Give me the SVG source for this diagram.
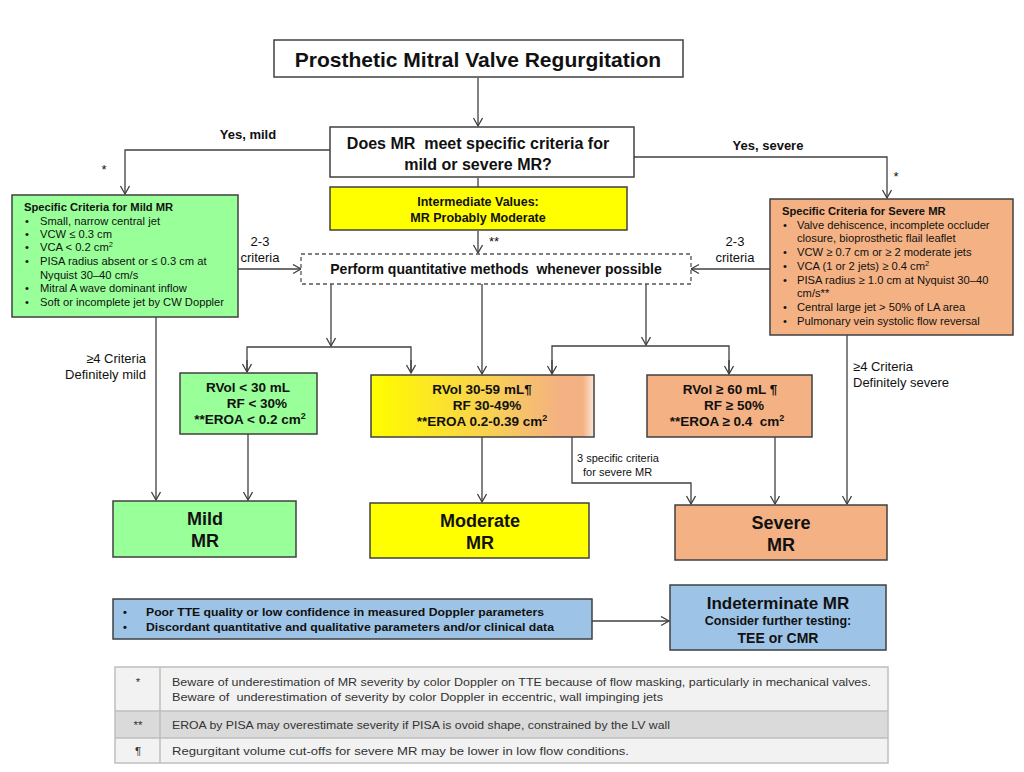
<svg xmlns="http://www.w3.org/2000/svg" width="1024" height="772" viewBox="0 0 1024 772">
<style>
text{font-family:"Liberation Sans",Arial,sans-serif;fill:#111;white-space:pre}
.b{font-weight:bold}
.box{stroke:#404040;stroke-width:1.5}
.c{fill:none;stroke:#404040;stroke-width:1.3}
.crit{font-size:11.2px}
.lbl{font-size:13px}
.rv{font-size:13.5px;font-weight:bold;text-anchor:middle}
.out{font-size:18px;font-weight:bold;text-anchor:middle}
.tb{font-size:11.5px;fill:#333}
</style>
<defs>
<marker id="ar" markerUnits="userSpaceOnUse" markerWidth="14" markerHeight="14" refX="9" refY="5" orient="auto">
<path d="M1,0.5 L9,5 L1,9.5" fill="none" stroke="#404040" stroke-width="1.3"/>
</marker>
<linearGradient id="mod" x1="0" y1="0" x2="1" y2="0">
<stop offset="0" stop-color="#FFFF00"/>
<stop offset="0.1" stop-color="#FEF50A"/>
<stop offset="0.55" stop-color="#F8CF55"/>
<stop offset="0.85" stop-color="#F4B183"/>
<stop offset="0.95" stop-color="#F4B183"/>
<stop offset="1" stop-color="#FBE6D8"/>
</linearGradient>
</defs>
<rect width="1024" height="772" fill="#fff"/>

<g id="connectors">
<path class="c" d="M478,78 V126" marker-end="url(#ar)"/>
<path class="c" d="M330,150 H125 V194" marker-end="url(#ar)"/>
<path class="c" d="M634,157 H887 V198" marker-end="url(#ar)"/>
<path class="c" d="M478,178 V187"/>
<path class="c" d="M478,231 V253" marker-end="url(#ar)"/>
<path class="c" d="M238,269 H301" marker-end="url(#ar)"/>
<path class="c" d="M770,269 H691" marker-end="url(#ar)"/>
<path class="c" d="M331,284 V346" marker-end="url(#ar)"/>
<path class="c" d="M247,372 V347 H411 V372"/>
<path class="c" d="M247,360 V372" marker-end="url(#ar)"/>
<path class="c" d="M411,360 V373" marker-end="url(#ar)"/>
<path class="c" d="M482,284 V374" marker-end="url(#ar)"/>
<path class="c" d="M646,284 V345" marker-end="url(#ar)"/>
<path class="c" d="M552,374 V346 H729 V374"/>
<path class="c" d="M552,360 V374" marker-end="url(#ar)"/>
<path class="c" d="M729,360 V374" marker-end="url(#ar)"/>
<path class="c" d="M156,317 V500" marker-end="url(#ar)"/>
<path class="c" d="M248,434 V500" marker-end="url(#ar)"/>
<path class="c" d="M482,437 V502" marker-end="url(#ar)"/>
<path class="c" d="M572,437 V483 H691 V504" marker-end="url(#ar)"/>
<path class="c" d="M775,437 V504" marker-end="url(#ar)"/>
<path class="c" d="M847,335 V504" marker-end="url(#ar)"/>
<path class="c" d="M592,621 H669" marker-end="url(#ar)"/>
</g>

<g id="labels">
<text class="lbl b" x="248" y="139" text-anchor="middle">Yes, mild</text>
<text class="lbl" x="104" y="174" text-anchor="middle">*</text>
<text class="lbl b" x="768" y="150" text-anchor="middle">Yes, severe</text>
<text class="lbl" x="896" y="181" text-anchor="middle">*</text>
<text class="lbl" x="494" y="246" text-anchor="middle">**</text>
<text class="lbl" x="260" y="246" text-anchor="middle">2-3</text>
<text class="lbl" x="260" y="262" text-anchor="middle">criteria</text>
<text class="lbl" x="735" y="246" text-anchor="middle">2-3</text>
<text class="lbl" x="735" y="262" text-anchor="middle">criteria</text>
<text class="lbl" x="146" y="363" text-anchor="end">≥4 Criteria</text>
<text class="lbl" x="146" y="379" text-anchor="end">Definitely mild</text>
<text class="lbl" x="853" y="371">≥4 Criteria</text>
<text class="lbl" x="853" y="387">Definitely severe</text>
<text x="577" y="462" font-size="11">3 specific criteria</text>
<text x="583" y="476" font-size="11">for severe MR</text>
</g>

<g id="title">
<rect class="box" x="274" y="40" width="409" height="37" fill="#fff"/>
<text class="b" x="478" y="67" font-size="21" text-anchor="middle">Prosthetic Mitral Valve Regurgitation</text>
</g>

<g id="question">
<rect class="box" x="330" y="127" width="304" height="50" fill="#fff"/>
<text class="b" x="478" y="149" font-size="16" text-anchor="middle">Does MR  meet specific criteria for</text>
<text class="b" x="478" y="170" font-size="16" text-anchor="middle">mild or severe MR?</text>
</g>

<g id="intermediate">
<rect class="box" x="330" y="187" width="297" height="43" fill="#FFFF00"/>
<text class="b" x="478" y="206" font-size="12.5" text-anchor="middle">Intermediate Values:</text>
<text class="b" x="478" y="222" font-size="12.5" text-anchor="middle">MR Probably Moderate</text>
</g>

<g id="quantitative">
<rect x="301" y="254" width="390" height="30" fill="#fff" stroke="#555" stroke-width="1.3" stroke-dasharray="4,3"/>
<text class="b" x="496" y="274" font-size="14" text-anchor="middle">Perform quantitative methods  whenever possible</text>
</g>

<g id="mild-criteria">
<rect class="box" x="12" y="195" width="226" height="122" fill="#99FF99"/>
<text class="crit b" x="24" y="211">Specific Criteria for Mild MR</text>
<g class="crit">
<text x="25" y="225">•</text><text x="40" y="225">Small, narrow central jet</text>
<text x="25" y="238">•</text><text x="40" y="238">VCW ≤ 0.3 cm</text>
<text x="25" y="251">•</text><text x="40" y="251">VCA &lt; 0.2 cm<tspan font-size="7.5" dy="-4">2</tspan></text>
<text x="25" y="265">•</text><text x="40" y="265">PISA radius absent or ≤ 0.3 cm at</text>
<text x="40" y="279">Nyquist 30–40 cm/s</text>
<text x="25" y="292">•</text><text x="40" y="292">Mitral A wave dominant inflow</text>
<text x="25" y="306">•</text><text x="40" y="306">Soft or incomplete jet by CW Doppler</text>
</g>
</g>

<g id="severe-criteria">
<rect class="box" x="770" y="199" width="243" height="136" fill="#F4B183"/>
<text class="crit b" x="782" y="215">Specific Criteria for Severe MR</text>
<g class="crit">
<text x="783" y="229">•</text><text x="797" y="229">Valve dehiscence, incomplete occluder</text>
<text x="797" y="242">closure, bioprosthetic flail leaflet</text>
<text x="783" y="256">•</text><text x="797" y="256">VCW ≥ 0.7 cm or ≥ 2 moderate jets</text>
<text x="783" y="270">•</text><text x="797" y="270">VCA (1 or 2 jets) ≥ 0.4 cm<tspan font-size="7.5" dy="-4">2</tspan></text>
<text x="783" y="284">•</text><text x="797" y="284">PISA radius ≥ 1.0 cm at Nyquist 30–40</text>
<text x="797" y="297">cm/s**</text>
<text x="783" y="311">•</text><text x="797" y="311">Central large jet &gt; 50% of LA area</text>
<text x="783" y="325">•</text><text x="797" y="325">Pulmonary vein systolic flow reversal</text>
</g>
</g>

<g id="rvol-mild">
<rect class="box" x="180" y="373" width="137" height="61" fill="#99FF99"/>
<text class="rv" x="248" y="392">RVol &lt; 30 mL</text>
<text class="rv" x="255" y="408"> RF &lt; 30%</text>
<text class="rv" x="250" y="424">**EROA &lt; 0.2 cm<tspan font-size="9" dy="-5">2</tspan></text>
</g>

<g id="rvol-moderate">
<rect class="box" x="371" y="375" width="223" height="62" fill="url(#mod)"/>
<text class="rv" x="482" y="394">RVol 30-59 mL¶</text>
<text class="rv" x="487" y="410">RF 30-49%</text>
<text class="rv" x="482" y="426">**EROA 0.2-0.39 cm<tspan font-size="9" dy="-5">2</tspan></text>
</g>

<g id="rvol-severe">
<rect class="box" x="647" y="375" width="165" height="62" fill="#F4B183"/>
<text class="rv" x="730" y="394">RVol ≥ 60 mL ¶</text>
<text class="rv" x="734" y="410">RF ≥ 50%</text>
<text class="rv" x="727" y="426">**EROA ≥ 0.4  cm<tspan font-size="9" dy="-5">2</tspan></text>
</g>

<g id="mild-mr">
<rect class="box" x="113" y="501" width="183" height="56" fill="#99FF99"/>
<text class="out" x="205" y="525">Mild</text>
<text class="out" x="205" y="547">MR</text>
</g>

<g id="moderate-mr">
<rect class="box" x="370" y="503" width="219" height="55" fill="#FFFF00"/>
<text class="out" x="480" y="527">Moderate</text>
<text class="out" x="480" y="549">MR</text>
</g>

<g id="severe-mr">
<rect class="box" x="675" y="505" width="212" height="55" fill="#F4B183"/>
<text class="out" x="781" y="529">Severe</text>
<text class="out" x="781" y="551">MR</text>
</g>

<g id="poor-quality">
<rect class="box" x="113" y="599" width="479" height="40" fill="#9DC3E6"/>
<text class="b" x="123" y="616" font-size="11">•</text>
<text class="b" x="146" y="616" font-size="11" textLength="398" lengthAdjust="spacingAndGlyphs">Poor TTE quality or low confidence in measured Doppler parameters</text>
<text class="b" x="123" y="631" font-size="11">•</text>
<text class="b" x="146" y="631" font-size="11" textLength="408" lengthAdjust="spacingAndGlyphs">Discordant quantitative and qualitative parameters and/or clinical data</text>
</g>

<g id="indeterminate">
<rect class="box" x="670" y="585" width="216" height="65" fill="#9DC3E6"/>
<text class="b" x="778" y="609" font-size="17" text-anchor="middle">Indeterminate MR</text>
<text class="b" x="778" y="625" font-size="12.5" text-anchor="middle">Consider further testing:</text>
<text class="b" x="778" y="643" font-size="14" text-anchor="middle">TEE or CMR</text>
</g>

<g id="footnotes">
<rect x="115" y="667" width="773" height="44" fill="#F2F2F2"/>
<rect x="115" y="711" width="773" height="27" fill="#DADADA"/>
<rect x="115" y="738" width="773" height="25" fill="#F2F2F2"/>
<g fill="none" stroke="#BFBFBF" stroke-width="1.5">
<rect x="115" y="667" width="773" height="96"/>
<path d="M115,711 H888 M115,738 H888 M160,667 V763"/>
</g>
<text class="tb" x="138" y="686" text-anchor="middle">*</text>
<text class="tb" x="172" y="686" textLength="699" lengthAdjust="spacingAndGlyphs">Beware of underestimation of MR severity by color Doppler on TTE because of flow masking, particularly in mechanical valves.</text>
<text class="tb" x="172" y="701" textLength="491" lengthAdjust="spacingAndGlyphs">Beware of  underestimation of severity by color Doppler in eccentric, wall impinging jets</text>
<text class="tb" x="138" y="729" text-anchor="middle">**</text>
<text class="tb" x="172" y="729" textLength="498" lengthAdjust="spacingAndGlyphs">EROA by PISA may overestimate severity if PISA is ovoid shape, constrained by the LV wall</text>
<text class="tb" x="138" y="755" text-anchor="middle">¶</text>
<text class="tb" x="172" y="755" textLength="457" lengthAdjust="spacingAndGlyphs">Regurgitant volume cut-offs for severe MR may be lower in low flow conditions.</text>
</g>
</svg>
